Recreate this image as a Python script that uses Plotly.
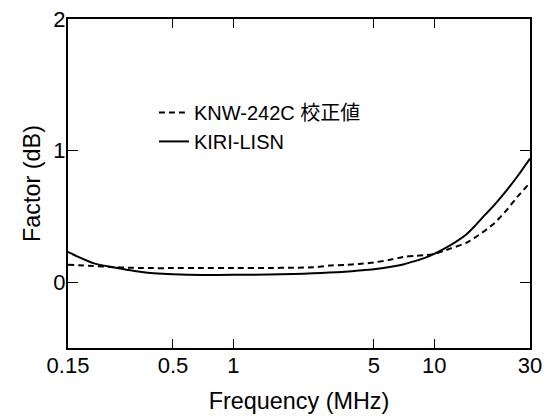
import plotly.graph_objects as go
import math

# Frequency points (MHz)
freq = [0.15, 0.17, 0.2, 0.25, 0.3, 0.35, 0.4, 0.5, 0.7, 1, 1.5, 2, 2.5, 3,
        3.6, 4.2, 5, 6, 7, 8, 9, 10, 12, 14.5, 16, 18, 20, 23, 26, 30]

# KNW-242C calibration values (dB)
knw = [0.133, 0.128, 0.123, 0.115, 0.110, 0.108, 0.107, 0.107, 0.107, 0.107,
       0.108, 0.110, 0.113, 0.126, 0.132, 0.138, 0.150, 0.170, 0.192, 0.200,
       0.205, 0.215, 0.255, 0.300, 0.340, 0.395, 0.450, 0.550, 0.650, 0.755]

# KIRI-LISN (dB)
kiri = [0.230, 0.190, 0.145, 0.113, 0.093, 0.077, 0.068, 0.060, 0.055, 0.056,
        0.058, 0.062, 0.068, 0.073, 0.080, 0.088, 0.098, 0.115, 0.135, 0.160,
        0.185, 0.215, 0.280, 0.365, 0.430, 0.515, 0.590, 0.700, 0.805, 0.940]

x_tickvals = [0.15, 0.5, 1, 5, 10, 30]
x_ticktext = ["0.15", "0.5", "1", "5", "10", "30"]
x_minor = [0.2, 0.3, 0.4, 0.6, 0.7, 0.8, 0.9, 2, 3, 4, 6, 7, 8, 9, 20]
y_tickvals = [0, 1, 2]
y_minor = [0.5, 1.5]

FONT = "Liberation Sans, Arial, Noto Sans CJK JP, sans-serif"
xr = [math.log10(0.15), math.log10(30)]
yr = [-0.5, 2]

fig = go.Figure()
fig.add_trace(go.Scatter(x=freq, y=knw, mode="lines", name="KNW-242C 校正値",
                         line=dict(color="black", width=2, dash="6px,4px",
                                   shape="spline", smoothing=0.6)))
fig.add_trace(go.Scatter(x=freq, y=kiri, mode="lines", name="KIRI-LISN",
                         line=dict(color="black", width=2,
                                   shape="spline", smoothing=0.6)))

common = dict(ticks="inside", tickwidth=1, tickcolor="black",
              showline=True, linecolor="black", linewidth=2, mirror="ticks",
              showgrid=False, zeroline=False, automargin=False)

fig.update_layout(
    width=535, height=408,
    margin=dict(l=60, r=13, t=11, b=68, autoexpand=False),
    paper_bgcolor="white", plot_bgcolor="white",
    font=dict(family=FONT, size=20, color="black"),
    showlegend=True,
    legend=dict(x=0.186, y=0.672, xanchor="left", yanchor="middle",
                bgcolor="rgba(0,0,0,0)", font=dict(size=20)),
    xaxis=dict(type="log", range=xr, tickmode="array",
               tickvals=x_tickvals, ticktext=x_ticktext, ticklen=9,
               tickfont=dict(size=22), ticklabelstandoff=-3,
               ticklabeloverflow="allow",
               title=dict(text="Frequency (MHz)", font=dict(size=23.4),
                          standoff=15),
               **common),
    xaxis2=dict(type="log", range=xr, overlaying="x", anchor="y",
                side="bottom", tickmode="array", tickvals=x_minor,
                showticklabels=False, ticklen=5, **common),
    yaxis=dict(range=yr, tickmode="array", tickvals=y_tickvals, ticklen=10,
               tickfont=dict(size=22), ticklabelstandoff=-4,
               ticklabeloverflow="allow",
               title=dict(text="Factor (dB)", font=dict(size=23.4),
                          standoff=6),
               **common),
    yaxis2=dict(range=yr, overlaying="y", anchor="x", side="left",
                tickmode="array", tickvals=y_minor,
                showticklabels=False, ticklen=5, **common),
)

fig.write_html("out.html")
